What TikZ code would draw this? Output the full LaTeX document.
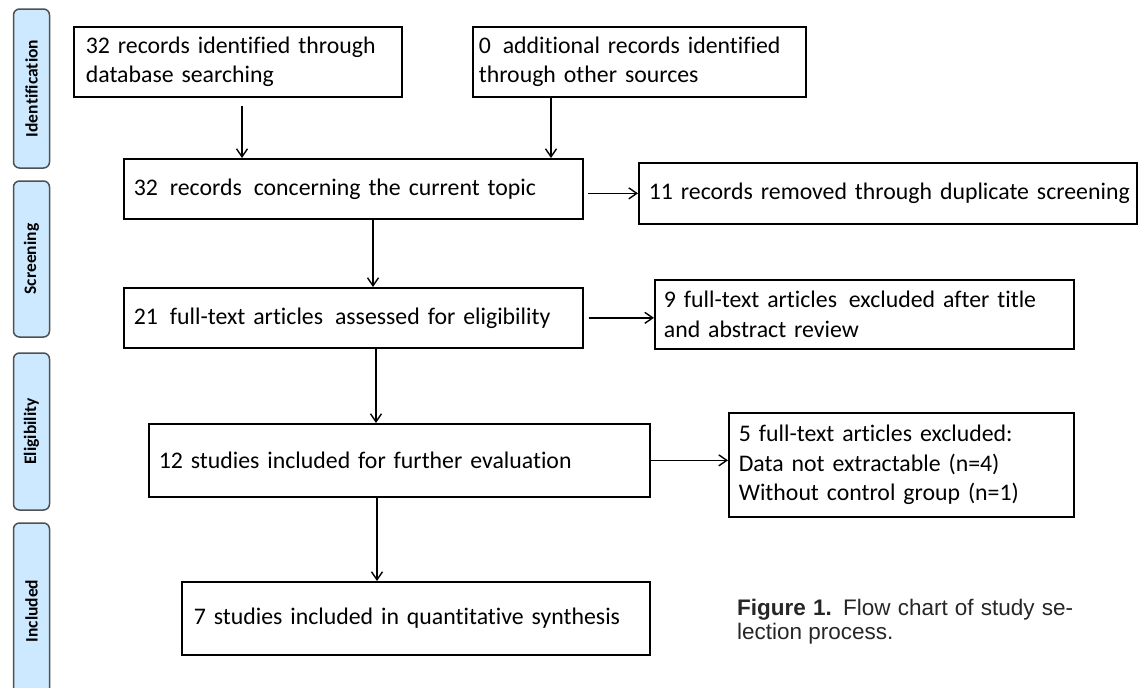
\documentclass[tikz,border=0pt]{standalone}
\usepackage{fontspec}
\setmainfont{Carlito}[Ligatures=NoCommon, WordSpace=0.85]
\newfontfamily\capfont{Liberation Sans}
\usetikzlibrary{arrows.meta}
\definecolor{stagefill}{RGB}{205,233,255}
\definecolor{stagedraw}{RGB}{80,80,80}
\newcommand{\dsp}{\hspace{0.5em}}
\tikzset{
  box/.style={draw=black, line width=1.7pt, rectangle, anchor=north west, inner ysep=0pt, align=left,
    font=\fontsize{23.8}{29.5}\selectfont},
  stage/.style={draw=stagedraw, fill=stagefill, line width=1.5pt, rounded corners=6pt, rotate=90,
    minimum height=36pt, inner sep=0pt, font=\fontsize{17.5}{20}\selectfont\bfseries},
  arr/.style={line width=1.4pt, -{Straight Barb[length=8pt,width=11pt]}},
  captext/.style={anchor=base west, inner sep=0pt, text=black!85, font=\capfont\fontsize{22.5}{24}\selectfont}
}
\begin{document}
\begin{tikzpicture}[x=1pt,y=-1pt]
\useasboundingbox (0,0) rectangle (1138,688);

% stage bars
\node[stage, minimum width=159pt] (s1) at (31.5,88.5) {Identification};
\node[stage, minimum width=156pt] (s2) at (31.5,259) {Screening};
\node[stage, minimum width=157pt] (s3) at (31.5,431.5) {Eligibility};
\node[stage, minimum width=176pt] (s4) at (31.5,611) {Included};

% boxes
\node[box, minimum width=328pt, minimum height=70pt, inner xsep=12pt, text width=304pt] (b1) at (73,26)
  {32 records identified through\\database searching};
\node[box, minimum width=333pt, minimum height=70pt, inner xsep=6pt, text width=321pt] (b2) at (472,26)
  {0\dsp additional records identified\\through other sources};
\node[box, minimum width=459pt, minimum height=60pt, inner xsep=10pt, text width=439pt] (b3) at (123,158)
  {\mbox{32\dsp records\dsp concerning the current topic}};
\node[box, minimum width=498pt, minimum height=61pt, inner xsep=10pt, text width=478pt] (b4) at (638,162)
  {\mbox{11 records removed through duplicate screening}};
\node[box, minimum width=459pt, minimum height=60pt, inner xsep=10pt, text width=439pt] (b5) at (123,287)
  {\mbox{21\dsp full-text articles\dsp assessed for eligibility}};
\node[box, minimum width=419pt, minimum height=69pt, inner xsep=9pt, text width=401pt] (b6) at (654,279)
  {\mbox{9 full-text articles\dsp excluded after title}\\and abstract review};
\node[box, minimum width=501pt, minimum height=73pt, inner xsep=10pt, text width=481pt] (b7) at (148,423)
  {\mbox{12 studies included for further evaluation}};
\node[box, minimum width=345pt, minimum height=104pt, inner xsep=10pt, text width=325pt] (b8) at (728,412)
  {5 full-text articles excluded:\\Data not extractable (n=4)\\Without control group (n=1)};
\node[box, minimum width=468pt, minimum height=73pt, inner xsep=12pt, text width=444pt] (b9) at (181,581)
  {\mbox{7 studies included in quantitative synthesis}};

% helper coordinates for vertical connectors
\coordinate (c1) at (242,106);
\coordinate (x551) at (551,0);
\coordinate (x373) at (373,0);
\coordinate (x376) at (376,0);
\coordinate (x377) at (377,0);

% connectors
\draw[arr] (c1) -- (c1 |- b3.north);
\draw[arr] (x551 |- b2.south) -- (x551 |- b3.north);
\draw[arr, shorten <=4pt] (b3.east |- b4.west) -- (b4.west);
\draw[arr] (x373 |- b3.south) -- (x373 |- b5.north);
\draw[arr, shorten <=5pt] (b5.east) -- (b6.west |- b5.east);
\draw[arr] (x376 |- b5.south) -- (x376 |- b7.north);
\draw[arr] (b7.east) -- (b8.west |- b7.east);
\draw[arr] (x377 |- b7.south) -- (x377 |- b9.north);

% caption
\node[captext] (cap1) at (737,615) {\makebox[336pt][s]{\textbf{Figure 1.} Flow chart of study se-}};
\node[captext] (cap2) at (737,639) {lection process.};
\end{tikzpicture}
\end{document}
